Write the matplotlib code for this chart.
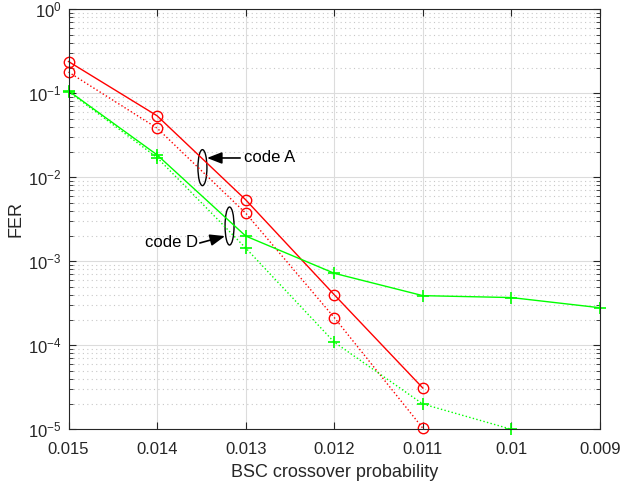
import matplotlib
matplotlib.use("Agg")
import matplotlib.pyplot as plt
from matplotlib.patches import Ellipse
from matplotlib.ticker import LogLocator, NullFormatter

# BSC crossover probability
p = [0.015, 0.014, 0.013, 0.012, 0.011, 0.010, 0.009]

# code A (red, circles)
fer_a_solid = [0.239, 0.054, 0.0054, 4.0e-4, 3.1e-5]
fer_a_dot = [0.179, 0.0385, 0.00375, 2.14e-4, 1.03e-5]
# code D (green, plus)
fer_d_solid = [0.107, 0.0185, 0.0020, 7.2e-4, 3.9e-4, 3.7e-4, 2.8e-4]
fer_d_dot = [0.105, 0.0172, 0.00144, 1.09e-4, 2.0e-5, 1.0e-5]

xticks = [0.015, 0.014, 0.013, 0.012, 0.011, 0.01, 0.009]
xticklabels = ["0.015", "0.014", "0.013", "0.012", "0.011", "0.01", "0.009"]

plt.rcParams['font.family'] = ['Liberation Sans', 'DejaVu Sans']
plt.rcParams['mathtext.fontset'] = 'custom'
plt.rcParams['mathtext.rm'] = 'Liberation Sans'

fig = plt.figure(figsize=(6.22, 4.87), dpi=100)
ax = fig.add_axes([68.5 / 622, 1 - 429.3 / 487, 531.5 / 622, 420 / 487])

ax.semilogy(p[:len(fer_a_solid)], fer_a_solid, '-o', color=(1, 0, 0), lw=1,
            mfc='none', ms=7.5, mew=1, clip_on=False)
ax.semilogy(p[:len(fer_a_dot)], fer_a_dot, ':o', color=(1, 0, 0), lw=1,
            mfc='none', ms=7.5, mew=1, clip_on=False)
ax.semilogy(p[:len(fer_d_solid)], fer_d_solid, '-+', color=(0, 1, 0), lw=1,
            ms=9, mew=1.2, clip_on=False)
ax.semilogy(p[:len(fer_d_dot)], fer_d_dot, ':+', color=(0, 1, 0), lw=1,
            ms=9, mew=1.2, clip_on=False)

ax.set_xlim(0.015, 0.009)
ax.set_ylim(1e-5, 1)
ax.set_xticks(xticks)
ax.set_xticklabels(xticklabels)
ax.yaxis.set_major_locator(LogLocator(base=10, numticks=10))
ax.yaxis.set_minor_locator(LogLocator(base=10, subs=range(2, 10), numticks=20))
ax.yaxis.set_minor_formatter(NullFormatter())

ax.grid(True, which='major', color='#dcdcdc', lw=0.8, ls='-')
ax.grid(True, which='minor', axis='y', color='#c8c8c8', lw=0.8, ls=(0, (1, 3)))
ax.set_axisbelow(True)
ax.tick_params(which='both', direction='in', top=True, right=True,
               labelsize=12, color='#262626', labelcolor='#262626')
ax.tick_params(which='major', length=5)
ax.tick_params(which='minor', length=3)
ax.tick_params(axis='x', pad=9)
ax.tick_params(axis='y', pad=5)
for s in ax.spines.values():
    s.set_color('#262626')
    s.set_linewidth(0.8)

ax.set_xlabel("BSC crossover probability", fontsize=13, color='#262626',
              labelpad=5)
ax.set_ylabel("FER", fontsize=13, color='#262626', labelpad=2.5)

# annotations
ax.add_patch(Ellipse((0.252, 0.623), 0.0169, 0.0857, transform=ax.transAxes,
                     fill=False, ec='k', lw=1))
ax.annotate("", xy=(0.2606, 0.646), xytext=(0.323, 0.646),
            xycoords='axes fraction', textcoords='axes fraction',
            arrowprops=dict(arrowstyle='-|>,head_length=0.9,head_width=0.35',
                            color='k', lw=1.2, shrinkA=0, shrinkB=0))
ax.text(0.330, 0.646, "code A", transform=ax.transAxes, fontsize=12,
        ha='left', va='center')

ax.add_patch(Ellipse((0.303, 0.484), 0.0169, 0.0905, transform=ax.transAxes,
                     fill=False, ec='k', lw=1))
ax.annotate("", xy=(0.2945, 0.460), xytext=(0.247, 0.4436),
            xycoords='axes fraction', textcoords='axes fraction',
            arrowprops=dict(arrowstyle='-|>,head_length=0.9,head_width=0.35',
                            color='k', lw=1.2, shrinkA=0, shrinkB=0))
ax.text(0.244, 0.4436, "code D", transform=ax.transAxes, fontsize=12,
        ha='right', va='center')

fig.savefig("out.png", dpi=100)
